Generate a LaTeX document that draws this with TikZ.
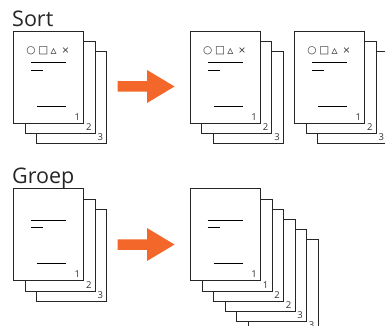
\documentclass[tikz,border=0pt]{standalone}
\usepackage{fontspec}
\setmainfont{Open Sans}
\newfontfamily\symfont{DejaVu Sans}
\usetikzlibrary{positioning,calc}
\definecolor{arroworange}{RGB}{243,104,42}

\begin{document}
\begin{tikzpicture}[x=1pt, y=-1pt,
    sheet/.style={draw=black!85, fill=white, line width=1pt, rectangle, inner sep=0pt,
                  minimum width=70pt, minimum height=92pt, anchor=north west},
    pagenum/.style={font=\fontsize{9.5}{10}\selectfont, anchor=base east, inner sep=0pt, text=black!80},
    glyph/.style={font=\symfont\fontsize{10.5}{10.5}\selectfont, inner sep=0pt, text=black!80},
    textline/.style={line width=0.9pt, draw=black},
    title/.style={font=\fontsize{21.5}{24}\selectfont, anchor=base west, inner sep=0pt, text=black!85},
    bigarrow/.style={fill=arroworange}]
    \clip (0,0) rectangle (385,326);

    % Titels
    \node[title] (sorttitle) at (12,26.5) {Sort};
    \node[title] (grouptitle) at (12,183.5) {Groep};

    % Stapels van drie bladen (achterste eerst)
    \foreach \s/\x/\y in {sortA/13.3/30.7, sortB/190/30.7, sortC/294.3/30.7, groupA/13.3/188.3}{
        \foreach \k in {3,2,1}
            \node[sheet] (\s\k) at ({\x+(\k-1)*11.45},{\y+(\k-1)*10.3}) {};
        \foreach \k in {1,2,3}
            \node[pagenum] (\s n\k) at ($(\s\k.south east)+(-4,-3.5)$) {\k};
    }

    % Gegroepeerde stapel van zes bladen
    \foreach \k in {6,5,4,3,2,1}
        \node[sheet] (groupB\k) at ({190+(\k-1)*11.5},{188.3+(\k-1)*10.2}) {};
    \foreach \k/\n in {1/1,2/1,3/2,4/2,5/3,6/3}
        \node[pagenum] (groupBn\k) at ($(groupB\k.south east)+(-4,-3.5)$) {\n};

    % Tekstregels op het voorste blad
    \foreach \s in {sortA,sortB,sortC,groupA,groupB}{
        \draw[textline] ($(\s1.north west)+(17.7,32)$) -- ($(\s1.north west)+(52.7,32)$);
        \draw[textline] ($(\s1.north west)+(17.7,39.6)$) -- ($(\s1.north west)+(29.7,39.6)$);
        \draw[textline] ($(\s1.north west)+(23.7,75.3)$) -- ($(\s1.north west)+(52.7,75.3)$);
    }

    % Symbolen bovenaan de gesorteerde bladen
    \foreach \s in {sortA,sortB,sortC}{
        \node[glyph] (\s c) at ($(\s1.north west)+(17.7,20.3)$) {○};
        \node[glyph] (\s q) at ($(\s1.north west)+(30,20.3)$) {□};
        \node[glyph, font=\symfont\fontsize{12}{12}\selectfont] (\s t) at ($(\s1.north west)+(40.3,20.3)$) {▵};
        \node[glyph, font=\symfont\fontsize{9.5}{9.5}\selectfont] (\s x) at ($(\s1.north west)+(52.2,20.3)$) {×};
    }

    % Oranje pijlen
    \coordinate (sortarrow) at (117.5,86.5);
    \coordinate (grouparrow) at (117.5,244.5);
    \foreach \a in {sortarrow,grouparrow}
        \fill[bigarrow] (\a) ++(0,-5.25) -- ++(29.5,0) -- ++(0,-11.25) -- ++(27.5,16.5)
            -- ++(-27.5,16.5) -- ++(0,-11.25) -- ++(-29.5,0) -- cycle;
\end{tikzpicture}
\end{document}
